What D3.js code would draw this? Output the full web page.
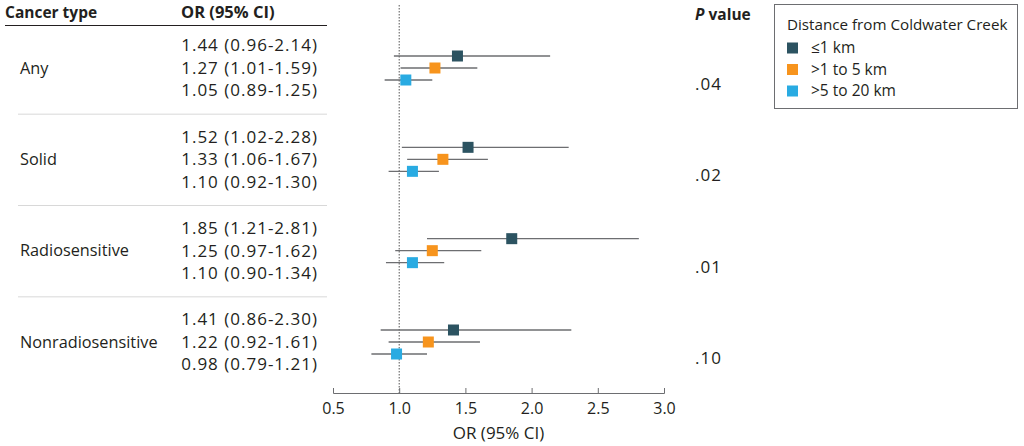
<!DOCTYPE html>
<html>
<head>
<meta charset="utf-8">
<script src="https://cdn.jsdelivr.net/npm/d3@7"></script>
<style>
  body { margin: 0; background: #fff; }
  text { font-family: "Open Sans", "Noto Sans", sans-serif; fill: #231f20; }
</style>
</head>
<body>
<div id="chart"></div>
<script>
var cancerTypes = ['Any', 'Solid', 'Radiosensitive', 'Nonradiosensitive'];
var distances = ['≤1 km', '>1 to 5 km', '>5 to 20 km'];
var colors = ['#2c5361', '#f7941d', '#29abe2'];
var orValues = [
    [1.44, 1.27, 1.05],
    [1.52, 1.33, 1.10],
    [1.85, 1.25, 1.10],
    [1.41, 1.22, 0.98]
];
var ciLow = [
    [0.96, 1.01, 0.89],
    [1.02, 1.06, 0.92],
    [1.21, 0.97, 0.90],
    [0.86, 0.92, 0.79]
];
var ciHigh = [
    [2.14, 1.59, 1.25],
    [2.28, 1.67, 1.30],
    [2.81, 1.62, 1.34],
    [2.30, 1.61, 1.21]
];
var pValues = ['.04', '.02', '.01', '.10'];
var xTicks = [0.5, 1.0, 1.5, 2.0, 2.5, 3.0];

var width = 1024, height = 446;

var svg = d3.select('#chart').append('svg')
    .attr('width', width)
    .attr('height', height);

var x = d3.scaleLinear().domain([0.5, 3.0]).range([333, 664]);
// group centres
var y = d3.scalePoint().domain(cancerTypes).range([68, 342]);
// offsets within a group: markers and text lines
var markerOff = d3.scalePoint().domain(distances).range([-12, 12]);
var textOff = d3.scalePoint().domain(distances).range([-22.5, 22.5]);

// headers
svg.append('text').attr('x', 5).attr('y', 18)
    .style('font-size', '15.5px').style('font-weight', 'bold')
    .text('Cancer type');
svg.append('text').attr('x', 181).attr('y', 18)
    .style('font-size', '16.5px').style('font-weight', 'bold')
    .text('OR (95% CI)');
var ph = svg.append('text').attr('x', 695).attr('y', 20)
    .style('font-size', '15.5px').style('font-weight', 'bold');
ph.append('tspan').style('font-style', 'italic').text('P');
ph.append('tspan').text(' value');

svg.append('line')
    .attr('x1', 5).attr('x2', 327).attr('y1', 25.5).attr('y2', 25.5)
    .style('stroke', '#231f20').style('stroke-width', 1);

// separators between groups
for (var i = 1; i < cancerTypes.length; i++) {
    var sy = (y(cancerTypes[i - 1]) + y(cancerTypes[i])) / 2 + 0.5;
    svg.append('line')
        .attr('x1', 18).attr('x2', 327).attr('y1', sy).attr('y2', sy)
        .style('stroke', '#d8d8d8').style('stroke-width', 1);
}

// reference line at OR = 1
svg.append('line')
    .attr('x1', x(1)).attr('x2', x(1)).attr('y1', 5).attr('y2', 393)
    .style('stroke', '#555').style('stroke-width', 1)
    .style('stroke-dasharray', '1.5,1.5');

cancerTypes.forEach(function (ct, gi) {
    var cy = y(ct);
    svg.append('text').attr('x', 20).attr('y', cy).attr('dy', '0.35em')
        .style('font-size', '16.3px').text(ct);
    svg.append('text').attr('x', 695).attr('y', cy + 16).attr('dy', '0.35em')
        .style('font-size', '17px').style('letter-spacing', '1px').text(pValues[gi]);

    distances.forEach(function (d, di) {
        svg.append('text').attr('x', 318).attr('y', cy + textOff(d)).attr('dy', '0.35em')
            .attr('text-anchor', 'end')
            .style('font-size', '17px').style('letter-spacing', '1px')
            .text(orValues[gi][di].toFixed(2) + ' (' + ciLow[gi][di].toFixed(2) + '-' + ciHigh[gi][di].toFixed(2) + ')');

        var my = cy + markerOff(d);
        svg.append('line')
            .attr('x1', x(ciLow[gi][di])).attr('x2', x(ciHigh[gi][di]))
            .attr('y1', my).attr('y2', my)
            .style('stroke', '#6d6e71').style('stroke-width', 1.3);
        svg.append('rect')
            .attr('x', x(orValues[gi][di]) - 5.5).attr('y', my - 5.5)
            .attr('width', 11).attr('height', 11)
            .style('fill', colors[di]);
    });
});

// x axis
var axis = svg.append('g')
    .attr('transform', 'translate(0,393)')
    .call(d3.axisTop(x).tickValues(xTicks).tickSize(5).tickFormat(d3.format('.1f')));
axis.select('.domain').style('stroke', '#6d6e71');
axis.selectAll('.tick line').style('stroke', '#6d6e71');
axis.selectAll('.tick text')
    .attr('y', 15.5).attr('dy', '0.35em')
    .style('font-size', '16px')
    .style('font-family', '"Open Sans", sans-serif')
    .style('fill', '#231f20');
svg.append('text').attr('x', x(1.75)).attr('y', 433.5).attr('dy', '0.35em')
    .attr('text-anchor', 'middle').style('font-size', '17px')
    .text('OR (95% CI)');

// legend
var lg = svg.append('g').attr('transform', 'translate(774,4)');
lg.append('rect').attr('x', 0.5).attr('y', 0.5).attr('width', 243).attr('height', 104)
    .style('fill', '#fff').style('stroke', '#6d6e71').style('stroke-width', 1);
lg.append('text').attr('x', 13).attr('y', 21).attr('dy', '0.35em')
    .style('font-size', '15.2px').text('Distance from Coldwater Creek');
distances.forEach(function (d, di) {
    lg.append('rect').attr('x', 13).attr('y', 38.5 + di * 21.5)
        .attr('width', 11).attr('height', 11).style('fill', colors[di]);
    lg.append('text').attr('x', 37).attr('y', 44 + di * 21.5).attr('dy', '0.35em')
        .style('font-size', '15.5px').text(d);
});
</script>
</body>
</html>
